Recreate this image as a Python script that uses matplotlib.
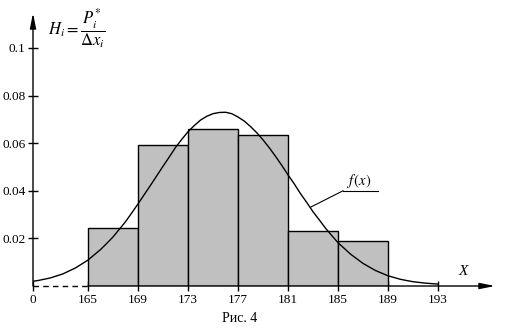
import matplotlib.pyplot as plt

# histogram data (bin edges and heights H_i = P_i* / dx_i)
bin_edges = [165, 169, 173, 177, 181, 185, 189]
heights = [0.0242, 0.0592, 0.0658, 0.0634, 0.0231, 0.0189]

# theoretical curve f(x)
curve_x = [160.6, 161, 162, 163, 164, 165, 166, 166.5, 167, 167.5, 168, 168.5,
           169, 169.5, 170, 170.5, 171, 171.5, 172, 172.5, 173, 173.5, 174,
           174.5, 175, 175.5, 176, 176.5, 177, 177.5, 178, 178.5, 179, 179.5,
           180, 180.5, 181, 181.5, 182, 182.5, 183, 183.5, 184, 184.5, 185,
           186, 187, 188, 189, 190, 191, 192, 193]
curve_y = [0.0020, 0.0023, 0.0034, 0.0051, 0.0076, 0.0109, 0.0153, 0.0179,
           0.0206, 0.0238, 0.0270, 0.0307, 0.0345, 0.0384, 0.0423, 0.0463,
           0.0503, 0.0542, 0.0582, 0.0616, 0.0648, 0.0674, 0.0697, 0.0713,
           0.0724, 0.0729, 0.0730, 0.0724, 0.0710, 0.0693, 0.0670, 0.0644,
           0.0614, 0.0581, 0.0545, 0.0507, 0.0467, 0.0429, 0.0388, 0.0351,
           0.0312, 0.0278, 0.0243, 0.0212, 0.0182, 0.0134, 0.0095, 0.0065,
           0.0043, 0.0028, 0.0018, 0.0012, 0.0008]

x_ticks = [165, 169, 173, 177, 181, 185, 189, 193]
y_ticks = [0.02, 0.04, 0.06, 0.08, 0.1]
y_tick_labels = ["0.02", "0.04", "0.06", "0.08", "0.1"]

X0 = 160.6          # where the broken axis shows "0"
XMAX = 197.56
YMAX = 0.1147

plt.rcParams["font.family"] = ["Liberation Serif", "DejaVu Serif"]
plt.rcParams["mathtext.fontset"] = "stix"

fig = plt.figure(figsize=(5.09, 3.36), dpi=100)
ax = fig.add_axes([33 / 509, 50 / 336, (495 - 33) / 509, (286 - 13) / 336])
ax.set_xlim(X0, XMAX)
ax.set_ylim(0, YMAX)
for s in ax.spines.values():
    s.set_visible(False)

# bars
widths = [b - a for a, b in zip(bin_edges[:-1], bin_edges[1:])]
ax.bar(bin_edges[:-1], heights, width=widths, align="edge",
       color="#c0c0c0", edgecolor="black", linewidth=1, zorder=2)

# curve
ax.plot(curve_x, curve_y, color="black", lw=1, zorder=3)

# axes with arrows
ax.plot([X0, bin_edges[0]], [0, 0], color="black", lw=1, ls=(0, (4, 3)),
        clip_on=False, zorder=4)
ax.annotate("", xy=(XMAX, 0), xytext=(bin_edges[0], 0),
            arrowprops=dict(arrowstyle="-|>,head_length=0.9,head_width=0.18",
                            color="black", lw=1, shrinkA=0, shrinkB=0),
            annotation_clip=False, zorder=4)
ax.annotate("", xy=(X0, YMAX), xytext=(X0, 0),
            arrowprops=dict(arrowstyle="-|>,head_length=0.9,head_width=0.18",
                            color="black", lw=1, shrinkA=0, shrinkB=0),
            annotation_clip=False, zorder=4)

ax.set_xticks([X0] + x_ticks)
ax.set_xticklabels(["0"] + [str(t) for t in x_ticks])
ax.set_yticks(y_ticks)
ax.set_yticklabels(y_tick_labels)
ax.tick_params(direction="inout", length=7, width=1, labelsize=9.5, pad=2)

# labels
fig.text(77 / 509, 1 - 29 / 336, r"$H_i = \dfrac{P_i^{*}}{\Delta x_i}$",
         ha="center", va="center", fontsize=12)
ax.text(195.0, 0.0035, "X", fontstyle="italic", fontsize=11, ha="center", va="bottom")

# f(x) label with leader line
ax.text(186.7, 0.0405, r"$f\,(x)$", fontsize=10.5, ha="center", va="bottom")
ax.plot([185.4, 188.2], [0.0422 - 0.0022, 0.0422 - 0.0022], color="black", lw=0.8)
ax.plot([182.8, 185.4], [0.0331, 0.0400], color="black", lw=0.8)

fig.text(240 / 509, 1 - 319 / 336, "Рис. 4", ha="center", va="center", fontsize=10)

fig.savefig("out.png", dpi=100)
